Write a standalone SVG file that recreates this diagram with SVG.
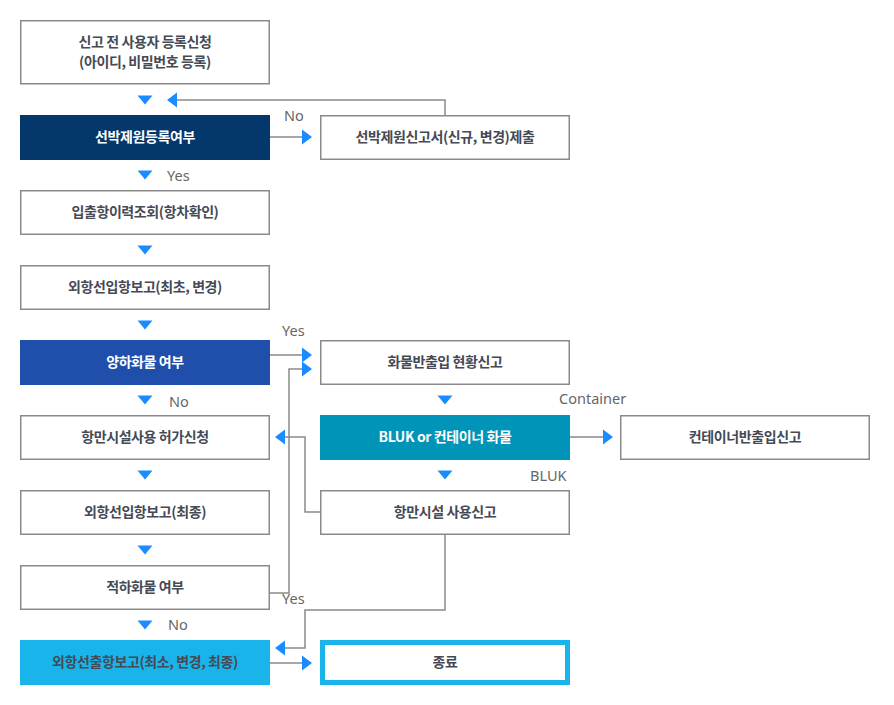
<svg xmlns="http://www.w3.org/2000/svg" width="894" height="705" viewBox="0 0 894 705">
<defs>
<style>
.box{fill:#fff;stroke:#8a8a8a;stroke-width:1.5}
.t{font-family:"Noto Sans CJK KR","Noto Sans",sans-serif;font-size:14px;font-weight:bold;fill:#454a55;text-anchor:middle;letter-spacing:-0.4px}
.w{fill:#fff}
.lbl{font-family:"Noto Sans","Open Sans",sans-serif;font-size:14.5px;fill:#666}
.ln{fill:none;stroke:#8a8a8a;stroke-width:1.5}
.tri{fill:#1a8cff}
</style>
<path id="dn" d="M-7.5,-4.5 L7.5,-4.5 L0,4.5 Z"/>
<path id="rt" d="M-5,-7.5 L5,0 L-5,7.5 Z"/>
<path id="lf" d="M5,-7.5 L-5,0 L5,7.5 Z"/>
</defs>
<rect width="894" height="705" fill="#fff"/>

<g id="connectors">
<path class="ln" d="M445,115 V100 H177"/>
<path class="ln" d="M270,137 H303"/>
<path class="ln" d="M270,355 H303"/>
<path class="ln" d="M270,593 H289 V369 H303"/>
<path class="ln" d="M320,512 H305 V437 H285"/>
<path class="ln" d="M570,437 H603"/>
<path class="ln" d="M445,535 V610 H305 V648 H285"/>
<path class="ln" d="M270,663 H303"/>
<g class="tri">
<use href="#dn" x="145" y="100"/>
<use href="#lf" x="172" y="100"/>
<use href="#rt" x="307" y="137"/>
<use href="#dn" x="145" y="175"/>
<use href="#dn" x="145" y="250"/>
<use href="#dn" x="145" y="325"/>
<use href="#rt" x="307" y="355"/>
<use href="#rt" x="307" y="369"/>
<use href="#dn" x="145" y="400"/>
<use href="#dn" x="445" y="400"/>
<use href="#lf" x="280" y="437"/>
<use href="#rt" x="608" y="437"/>
<use href="#dn" x="145" y="475"/>
<use href="#dn" x="445" y="475"/>
<use href="#dn" x="145" y="550"/>
<use href="#dn" x="145" y="625"/>
<use href="#lf" x="280" y="648"/>
<use href="#rt" x="307" y="663"/>
</g>
<text class="lbl" x="284" y="121">No</text>
<text class="lbl" x="167" y="181">Yes</text>
<text class="lbl" x="282" y="336">Yes</text>
<text class="lbl" x="169" y="407">No</text>
<text class="lbl" x="559" y="404">Container</text>
<text class="lbl" x="530" y="481">BLUK</text>
<text class="lbl" x="282" y="604">Yes</text>
<text class="lbl" x="168" y="630">No</text>
</g>

<g id="n1"><rect class="box" x="20.75" y="20.75" width="248.5" height="63"/>
<text class="t" x="145" y="46.5">신고 전 사용자 등록신청</text>
<text class="t" x="145" y="66.5">(아이디, 비밀번호 등록)</text></g>
<g id="n2"><rect x="20" y="115" width="250" height="45" fill="#04386c"/>
<text class="t w" x="145" y="142">선박제원등록여부</text></g>
<g id="n3"><rect class="box" x="320.75" y="115.75" width="248.5" height="43.5"/>
<text class="t" x="445" y="142">선박제원신고서(신규, 변경)제출</text></g>
<g id="n4"><rect class="box" x="20.75" y="190.75" width="248.5" height="43.5"/>
<text class="t" x="145" y="217">입출항이력조회(항차확인)</text></g>
<g id="n5"><rect class="box" x="20.75" y="265.75" width="248.5" height="43.5"/>
<text class="t" x="145" y="292">외항선입항보고(최초, 변경)</text></g>
<g id="n6"><rect x="20" y="340" width="250" height="45" fill="#1f4fab"/>
<text class="t w" x="145" y="367">양하화물 여부</text></g>
<g id="n7"><rect class="box" x="320.75" y="340.75" width="248.5" height="43.5"/>
<text class="t" x="445" y="367">화물반출입 현황신고</text></g>
<g id="n8"><rect class="box" x="20.75" y="415.75" width="248.5" height="43.5"/>
<text class="t" x="145" y="442">항만시설사용 허가신청</text></g>
<g id="n9"><rect x="320" y="415" width="250" height="45" fill="#0094b9"/>
<text class="t w" x="445" y="442">BLUK or 컨테이너 화물</text></g>
<g id="n10"><rect class="box" x="620.75" y="415.75" width="248.5" height="43.5"/>
<text class="t" x="745" y="442">컨테이너반출입신고</text></g>
<g id="n11"><rect class="box" x="20.75" y="490.75" width="248.5" height="43.5"/>
<text class="t" x="145" y="517">외항선입항보고(최종)</text></g>
<g id="n12"><rect class="box" x="320.75" y="490.75" width="248.5" height="43.5"/>
<text class="t" x="445" y="517">항만시설 사용신고</text></g>
<g id="n13"><rect class="box" x="20.75" y="565.75" width="248.5" height="43.5"/>
<text class="t" x="145" y="592">적하화물 여부</text></g>
<g id="n14"><rect x="20" y="640" width="250" height="45" fill="#19b5ea"/>
<text class="t" x="145" y="667" fill="#2b3140">외항선출항보고(최소, 변경, 최종)</text></g>
<g id="n15"><rect x="322.5" y="642.5" width="245" height="40" fill="#fff" stroke="#19b5ea" stroke-width="5"/>
<text class="t" x="445" y="667">종료</text></g>
</svg>
